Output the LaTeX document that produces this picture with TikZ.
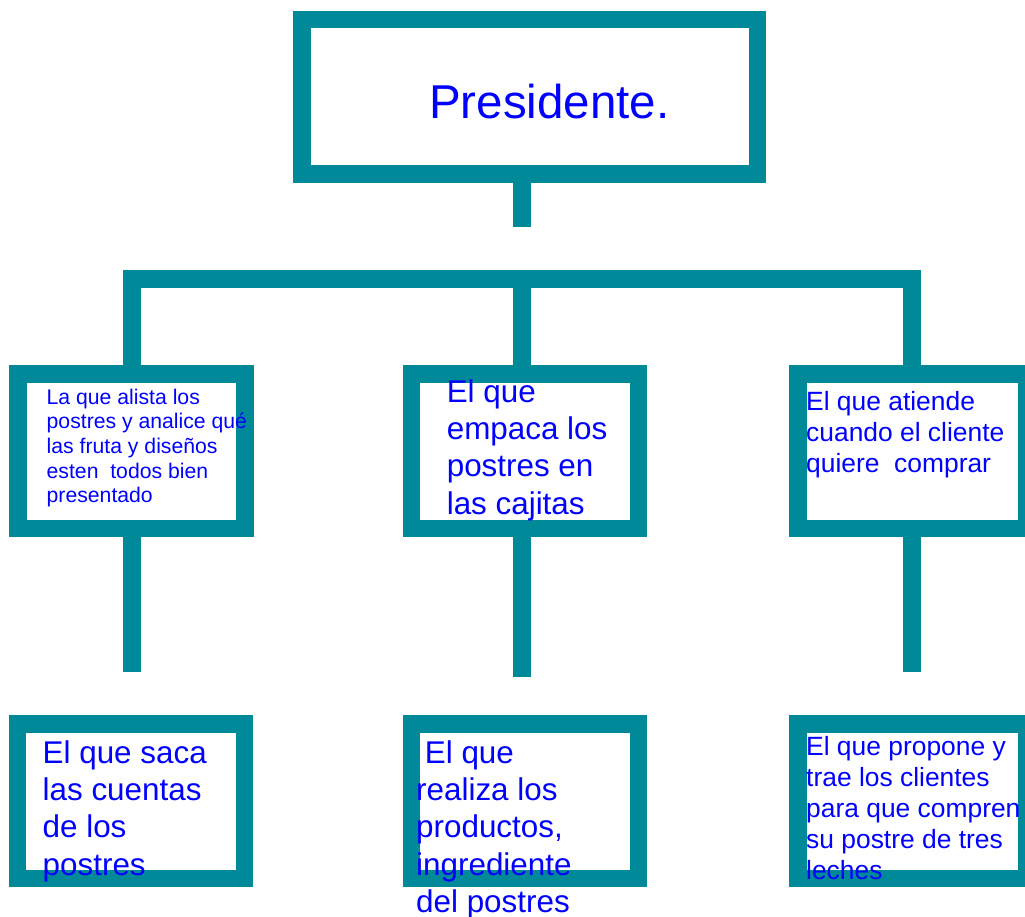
\documentclass[tikz,border=0pt]{standalone}
\usepackage{fontspec}
\setmainfont{Liberation Sans}
\definecolor{orgteal}{RGB}{0,138,153}
\tikzset{
  puesto/.style={draw=orgteal, line width=17.5pt, fill=white, minimum width=227pt, minimum height=154.5pt, inner sep=0pt},
  linea/.style={draw=orgteal, line width=18pt, line join=miter},
  texto/.style={anchor=north west, inner sep=0pt, align=left, text=blue}
}
\begin{document}
\begin{tikzpicture}[x=1pt,y=-1pt]
\useasboundingbox[fill=white] (0,0) rectangle (1025,917);
\node[puesto, minimum width=455.5pt] (pres) at (529.5,97) {};
\node[puesto] (mid1) at (131.5,451) {};
\node[puesto] (mid2) at (525,451) {};
\node[puesto, minimum width=228.5pt] (mid3) at (912,451) {};
\node[puesto] (low1) at (131,801) {};
\node[puesto] (low2) at (525,801) {};
\node[puesto, minimum width=228.5pt] (low3) at (912,801) {};
\coordinate (hubtop) at (522,227);
\coordinate (hub) at (522,279);
\coordinate (end1) at (131.5,671.7);
\coordinate (end2) at (522,677);
\coordinate (end3) at (912,671.7);
\draw[linea] (pres.south -| hub) -- (hubtop);
\draw[linea] (mid1.north) -- (mid1.north |- hub) -- (mid3.north |- hub) -- (mid3.north);
\draw[linea] (hub) -- (hub |- mid2.north);
\draw[linea] (mid1.south) -- (end1);
\draw[linea] (mid2.south -| hub) -- (end2);
\draw[linea] (mid3.south) -- (end3);
\node[texto, anchor=base west, font={\fontsize{47.5}{56}\selectfont}] (tpres) at (429,118.3) {Presidente.};
\node[texto, font={\fontsize{21.2}{24.7}\selectfont}] (tmid1) at (46.5,386.7) {\strut La que alista los\\postres y analice qué\\las fruta y diseños\\esten~ todos bien\\presentado};
\node[texto, font={\fontsize{31.4}{37.4}\selectfont}] (tmid2) at (446.6,375.8) {\strut El que\\empaca los\\postres en\\las cajitas};
\node[texto, font={\fontsize{26.4}{31}\selectfont}] (tmid3) at (806,388.3) {\strut El que atiende\\cuando el cliente\\quiere~ comprar};
\node[texto, font={\fontsize{31.4}{37.4}\selectfont}] (tlow1) at (42.5,736.8) {\strut El que saca\\las cuentas\\de los\\postres};
\node[texto, font={\fontsize{31.4}{37.4}\selectfont}] (tlow2) at (416,736.8) {\strut ~El que\\realiza los\\productos,\\ingrediente\\del postres};
\node[texto, font={\fontsize{26.4}{31}\selectfont}] (tlow3) at (806,733.4) {\strut El que propone y\\trae los clientes\\para que compren\\su postre de tres\\leches};
\end{tikzpicture}
\end{document}
